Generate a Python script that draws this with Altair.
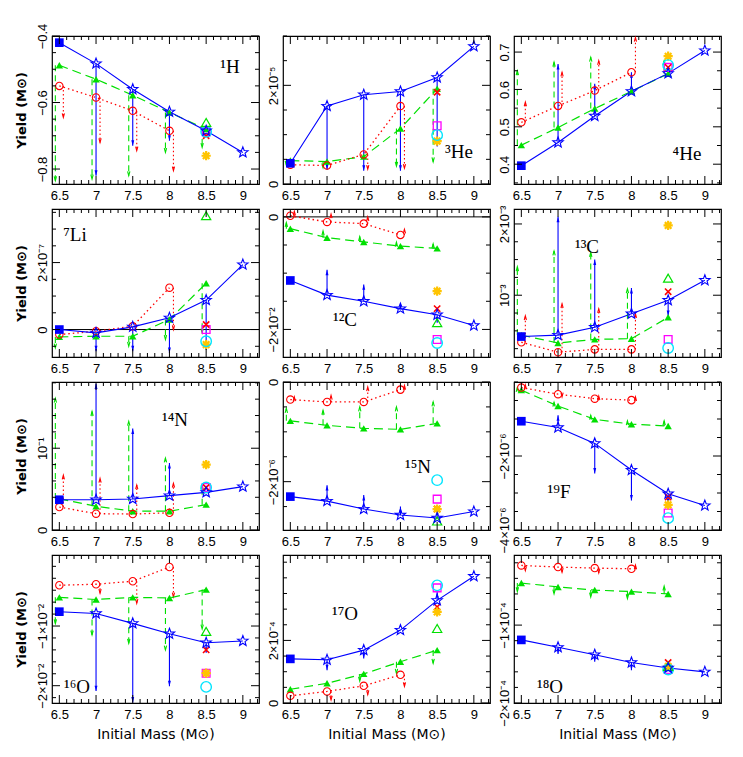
import math
import altair as alt
import pandas as pd

MASS = [6.5, 7.0, 7.5, 8.0, 8.5, 9.0]
X_LABELS = [6.5, 7.0, 7.5, 8.0, 8.5, 9.0]
X_DOMAIN = [6.4, 9.22]

# extras at 8.5: [magenta square, red cross, yellow asterisk, cyan circle, green open triangle]

# ---- 1H (M_sun)
H1_blue = [-0.42, -0.483, -0.56, -0.628, -0.685, -0.75]
H1_green = [-0.488, -0.53, -0.578, -0.63, -0.68]
H1_red = [-0.55, -0.585, -0.625, -0.685]
H1_blue_arrow = [None, -0.82, -0.73, -0.715, None, None]
H1_green_arrow = [-0.835, -0.83, -0.82, -0.75, -0.735]
H1_red_arrow = [-0.645, -0.72, -0.745, -0.805]
H1_extra = [-0.688, -0.70, -0.76, -0.688, -0.66]

# ---- 3He (1e-5)
He3_blue = [0.42, 1.58, 1.81, 1.875, 2.16, 2.79]
He3_green = [0.475, 0.455, 0.555, 1.125, 1.93]
He3_red = [0.39, 0.375, 0.60, 1.58]
He3_blue_arrow = [None, 0.29, 0.27, 0.27, 0.76, None]
He3_green_arrow = [0.38, 0.33, None, 0.36, 0.45]
He3_red_arrow = [None, None, 0.30, 0.32]
He3_extra = [1.18, 1.86, 0.87, 0.99, None]

# ---- 4He (M_sun)
He4_blue = [0.396, 0.458, 0.529, 0.595, 0.643, 0.704]
He4_green = [0.451, 0.498, 0.549, 0.595, 0.642]
He4_red = [0.512, 0.556, 0.597, 0.646]
He4_blue_arrow = [None, 0.668, 0.615, 0.646, None, None]
He4_green_arrow = [0.65, 0.673, 0.686, None, 0.677]
He4_red_arrow = [0.566, 0.646, 0.677, 0.739]
He4_extra = [0.659, 0.659, 0.689, 0.665, None]

# ---- 7Li (1e-7)
Li7_blue = [0.0, -0.1, 0.08, 0.35, 0.88, 1.94]
Li7_green = [-0.22, -0.2, -0.2, 0.3, 1.38]
Li7_red = [-0.15, -0.05, 0.1, 1.25]
Li7_blue_arrow = [None, -0.65, -0.65, -0.7, -0.6, None]
Li7_green_arrow = [-0.55, None, -0.5, -0.3, -0.1]
Li7_red_arrow = [None, None, None, 0.0]
Li7_extra = [0.0, 0.15, -0.45, -0.35, 3.4]

# ---- 12C (1e-2)
C12_blue = [-1.13, -1.39, -1.50, -1.63, -1.74, -1.93]
C12_green = [-0.21, -0.37, -0.445, -0.52, -0.56]
C12_red = [0.02, -0.09, -0.12, -0.32]
C12_blue_arrow = [None, -0.94, -1.2, -1.55, -1.88, None]
C12_green_arrow = [-0.1, -0.25, -0.35, -0.45, -0.48]
C12_red_arrow = [0.1, 0.05, 0.0, -0.22]
C12_extra = [-2.18, -1.63, -1.32, -2.24, -1.88]

# ---- 13C (1e-3)
C13_blue = [0.42, 0.44, 0.55, 0.74, 0.93, 1.21]
C13_green = [0.44, 0.33, 0.38, 0.39, 0.69]
C13_red = [0.34, 0.2, 0.24, 0.24]
C13_blue_arrow = [None, 2.1, 1.5, 1.1, 0.71, None]
C13_green_arrow = [1.4, 1.62, 1.6, 1.09, None]
C13_red_arrow = [0.71, 0.88, 0.81, 0.74]
C13_extra = [0.38, 1.05, 1.98, 0.26, 1.24]

# ---- 14N (M_sun)
N14_blue = [0.037, 0.037, 0.038, 0.042, 0.046, 0.053]
N14_green = [0.038, 0.029, 0.023, 0.023, 0.031]
N14_red = [0.028, 0.020, 0.0195, 0.021]
N14_blue_arrow = [None, 0.179, 0.124, 0.082, None, None]
N14_green_arrow = [0.161, 0.145, 0.133, 0.088, 0.055]
N14_red_arrow = [0.067, 0.063, 0.055, 0.057]
N14_extra = [0.052, 0.052, 0.08, 0.052, None]

# ---- 15N (1e-6)
N15_blue = [-2.3, -2.39, -2.55, -2.67, -2.73, -2.6]
N15_green = [-0.78, -0.87, -0.93, -0.95, -0.83]
N15_red = [-0.353, -0.4, -0.4, -0.153]
N15_blue_arrow = [None, -2.07, -2.27, -2.5, -2.55, None]
N15_green_arrow = [-0.53, -0.57, -0.5, -0.5, -0.4]
N15_red_arrow = [-0.3, -0.27, -0.1, -0.07]
N15_extra = [-2.35, -2.55, -2.55, -1.97, -2.79]

# ---- 19F (1e-6)
F19_blue = [-1.06, -1.23, -1.66, -2.38, -3.02, -3.34]
F19_green = [-0.22, -0.65, -1.01, -1.14, -1.19]
F19_red = [-0.15, -0.33, -0.45, -0.49]
F19_blue_arrow = [None, -0.9, -2.47, -3.2, -3.3, None]
F19_green_arrow = [-0.15, -0.55, -0.9, -1.05, -1.05]
F19_red_arrow = [-0.08, -0.4, -0.38, -0.4]
F19_extra = [-3.54, -3.11, -3.32, -3.68, None]

# ---- 16O (1e-2)
O16_blue = [-0.76, -0.79, -0.956, -1.13, -1.28, -1.25]
O16_green = [-0.52, -0.556, -0.52, -0.53, -0.39]
O16_red = [-0.317, -0.30, -0.25, -0.011]
O16_blue_arrow = [None, -2.09, -2.28, -2.01, -1.45, None]
O16_green_arrow = [-0.96, -1.15, -1.29, -1.4, -1.05]
O16_red_arrow = [None, -0.45, -0.62, -0.51]
O16_extra = [-1.79, -1.4, -1.79, -2.02, -1.09]

# ---- 17O (1e-4)
O17_blue = [1.41, 1.38, 1.69, 2.33, 3.28, 4.05]
O17_green = [0.44, 0.63, 0.93, 1.32, 1.69]
O17_red = [0.23, 0.37, 0.55, 0.9]
O17_blue_arrow = [None, 1.05, 1.42, None, 3.55, None]
O17_green_arrow = [None, None, 0.7, 0.95, 1.27]
O17_red_arrow = [None, 0.1, 0.27, 0.53]
O17_extra = [3.68, 3.07, 2.91, 3.76, 2.38]

# ---- 18O (1e-4)
O18_blue = [-1.19, -1.285, -1.38, -1.48, -1.55, -1.6]
O18_green = [-0.46, -0.51, -0.55, -0.57, -0.6]
O18_red = [-0.234, -0.255, -0.268, -0.277]
O18_blue_arrow = [None, -1.37, -1.47, -1.58, None, None]
O18_green_arrow = [-0.57, -0.6, -0.64, -0.66, -0.5]
O18_red_arrow = [-0.3, -0.32, -0.33, -0.23]
O18_extra = [-1.57, -1.48, -1.53, -1.57, -1.53]

PANELS = [
    dict(label="¹H", b=H1_blue, g=H1_green, r=H1_red, ba=H1_blue_arrow, ga=H1_green_arrow, ra=H1_red_arrow, ex=H1_extra,
         ydom=[-0.845, -0.4], step=0.05, labels={-0.4: "−0.4", -0.6: "−0.6", -0.8: "−0.8"}, lpos=(178, 31), zero=False),
    dict(label="³He", b=He3_blue, g=He3_green, r=He3_red, ba=He3_blue_arrow, ga=He3_green_arrow, ra=He3_red_arrow, ex=He3_extra,
         ydom=[0, 3.0], step=0.5, labels={0: "0", 2: "2×10⁻⁵"}, lpos=(176, 116), zero=False),
    dict(label="⁴He", b=He4_blue, g=He4_green, r=He4_red, ba=He4_blue_arrow, ga=He4_green_arrow, ra=He4_red_arrow, ex=He4_extra,
         ydom=[0.347, 0.743], step=0.05, labels={0.4: "0.4", 0.5: "0.5", 0.6: "0.6", 0.7: "0.7"}, lpos=(173, 118), zero=False),
    dict(label="⁷Li", b=Li7_blue, g=Li7_green, r=Li7_red, ba=Li7_blue_arrow, ga=Li7_green_arrow, ra=Li7_red_arrow, ex=Li7_extra,
         ydom=[-0.82, 3.6], step=0.5, labels={0: "0", 2: "2×10⁻⁷"}, lpos=(23, 26), zero=True),
    dict(label="¹²C", b=C12_blue, g=C12_green, r=C12_red, ba=C12_blue_arrow, ga=C12_green_arrow, ra=C12_red_arrow, ex=C12_extra,
         ydom=[-2.49, 0.14], step=0.5, labels={0: "0", -2: "−2×10⁻²"}, lpos=(62, 111), zero=True),
    dict(label="¹³C", b=C13_blue, g=C13_green, r=C13_red, ba=C13_blue_arrow, ga=C13_green_arrow, ra=C13_red_arrow, ex=C13_extra,
         ydom=[0.133, 2.21], step=0.25, labels={1: "10⁻³", 2: "2×10⁻³"}, lpos=(73, 38), zero=False),
    dict(label="¹⁴N", b=N14_blue, g=N14_green, r=N14_red, ba=N14_blue_arrow, ga=N14_green_arrow, ra=N14_red_arrow, ex=N14_extra,
         ydom=[0, 0.181], step=0.02, labels={0: "0", 0.1: "10⁻¹"}, lpos=(123, 38), zero=False),
    dict(label="¹⁵N", b=N15_blue, g=N15_green, r=N15_red, ba=N15_blue_arrow, ga=N15_green_arrow, ra=N15_red_arrow, ex=N15_extra,
         ydom=[-2.97, 0], step=0.5, labels={0: "0", -2: "−2×10⁻⁶"}, lpos=(135, 85), zero=False),
    dict(label="¹⁹F", b=F19_blue, g=F19_green, r=F19_red, ba=F19_blue_arrow, ga=F19_green_arrow, ra=F19_red_arrow, ex=F19_extra,
         ydom=[-4.0, 0], step=0.5, labels={-2: "−2×10⁻⁶", -4: "−4×10⁻⁶"}, lpos=(45, 110), zero=False),
    dict(label="¹⁶O", b=O16_blue, g=O16_green, r=O16_red, ba=O16_blue_arrow, ga=O16_green_arrow, ra=O16_red_arrow, ex=O16_extra,
         ydom=[-2.29, 0.19], step=0.2, labels={-1: "−1×10⁻²", -2: "−2×10⁻²"}, lpos=(25, 132), zero=False),
    dict(label="¹⁷O", b=O17_blue, g=O17_green, r=O17_red, ba=O17_blue_arrow, ga=O17_green_arrow, ra=O17_red_arrow, ex=O17_extra,
         ydom=[0, 4.73], step=0.5, labels={0: "0", 2: "2×10⁻⁴"}, lpos=(62, 59), zero=False),
    dict(label="¹⁸O", b=O18_blue, g=O18_green, r=O18_red, ba=O18_blue_arrow, ga=O18_green_arrow, ra=O18_red_arrow, ex=O18_extra,
         ydom=[-2.0, -0.1], step=0.2, labels={-1: "−1×10⁻⁴", -2: "−2×10⁻⁴"}, lpos=(36, 132), zero=False),
]

W, H = 207, 148
BLUE, GREEN, RED = "#0000ff", "#00e000", "#ff0000"
MAGENTA, CYAN, GOLD = "#ff00ff", "#00e5ff", "#ffc400"


def star_path(ro=1.0, ri=0.42):
    pts = []
    for k in range(10):
        a = -math.pi / 2 + k * math.pi / 5
        r = ro if k % 2 == 0 else ri
        pts.append(f"{r * math.cos(a):.3f},{r * math.sin(a):.3f}")
    return "M" + "L".join(pts) + "Z"


STAR = star_path()
ASTER = "M0,-1L0,1M-1,0L1,0M-0.71,-0.71L0.71,0.71M-0.71,0.71L0.71,-0.71"
XMARK = "M-1,-1L1,1M-1,1L1,-1"
HEAD_DOWN_F = "M-0.32,-1.6L0,0L0.32,-1.6Z"
HEAD_UP_F = "M-0.32,1.6L0,0L0.32,1.6Z"
HEAD_DOWN_O = "M-0.35,-1.3L0,0L0.35,-1.3"
HEAD_UP_O = "M-0.35,1.3L0,0L0.35,1.3"


def label_expr(d):
    parts = [f"abs(datum.value - ({v})) < 1e-6 ? '{t}'" for v, t in d.items()]
    return " : ".join(parts) + " : ''"


def make_panel(i, p):
    row, col = divmod(i, 3)
    xs = alt.Scale(domain=X_DOMAIN, nice=False, zero=False)
    ys = alt.Scale(domain=p["ydom"], nice=False, zero=False)

    xax = alt.Axis(values=X_LABELS, format="~g", ticks=False, domain=False, grid=False,
                   labelFontSize=13, labelPadding=5, labelFont="Liberation Sans", labelColor="black",
                   title="Initial Mass (M⊙)" if row == 3 else "",
                   titleFontSize=14, titleFont="DejaVu Sans", titleFontWeight="normal", titlePadding=6,
                   titleColor="black")
    yax = alt.Axis(values=list(p["labels"].keys()), labelExpr=label_expr(p["labels"]), labelAngle=270,
                   ticks=False, domain=False, grid=False, labelFontSize=13, labelPadding=3,
                   labelFont="Liberation Sans", labelColor="black", labelOverlap=False,
                   title="Yield (M⊙)" if col == 0 else "", titleFontSize=13, titleFont="DejaVu Sans",
                   titleFontWeight="bold", titlePadding=8, titleColor="black")

    def X(f):
        return alt.X(f, type="quantitative", scale=xs, axis=xax)

    def Y(f):
        return alt.Y(f, type="quantitative", scale=ys, axis=yax)

    layers = []

    if p["zero"]:
        layers.append(alt.Chart(pd.DataFrame({"z": [0.0]})).mark_rule(color="black", strokeWidth=1).encode(y=Y("z")))

    def arrows(ms, starts, ends, color, dash, filled, xoff, size, sw):
        rows = [(m, s, e) for m, s, e in zip(ms, starts, ends) if e is not None]
        if not rows:
            return []
        df = pd.DataFrame(rows, columns=["m", "s", "e"])
        df["dir"] = ["up" if e > s else "down" for _, s, e in rows]
        rule_kw = dict(color=color, strokeWidth=sw, xOffset=xoff)
        if dash:
            rule_kw["strokeDash"] = dash
        rule = alt.Chart(df).mark_rule(**rule_kw).encode(x=X("m"), y=Y("s"), y2="e:Q")
        rng = [HEAD_UP_F, HEAD_DOWN_F] if filled else [HEAD_UP_O, HEAD_DOWN_O]
        head = alt.Chart(df).mark_point(filled=filled, color=color, size=size, xOffset=xoff,
                                        strokeWidth=sw, opacity=1).encode(
            x=X("m"), y=Y("e"),
            shape=alt.Shape("dir:N", scale=alt.Scale(domain=["up", "down"], range=rng), legend=None))
        return [rule, head]

    def line(ms, vals, color, dash, sw):
        df = pd.DataFrame({"m": ms[:len(vals)], "v": vals})
        kw = dict(color=color, strokeWidth=sw)
        if dash:
            kw["strokeDash"] = dash
        return alt.Chart(df).mark_line(**kw).encode(x=X("m"), y=Y("v"))

    def pts(ms, vals, shape, size, color, filled, sw=1.0):
        df = pd.DataFrame({"m": ms, "v": vals})
        return alt.Chart(df).mark_point(shape=shape, size=size, filled=filled, color=color,
                                        strokeWidth=sw, opacity=1).encode(x=X("m"), y=Y("v"))

    layers += arrows(MASS[:5], p["g"], p["ga"], GREEN, [6, 4], False, -4, 45, 1.1)
    layers += arrows(MASS[:4], p["r"], p["ra"], RED, [1.5, 2.5], False, 4, 40, 1.1)
    layers.append(line(MASS, p["g"], GREEN, [9, 5], 1.2))
    layers.append(line(MASS, p["r"], RED, [1.5, 3], 1.3))
    layers += arrows(MASS[:6], p["b"], p["ba"], BLUE, None, True, 0, 70, 1.1)
    layers.append(line(MASS, p["b"], BLUE, None, 1.1))

    layers.append(pts(MASS[:len(p["g"])], p["g"], "triangle-up", 55, GREEN, True))
    layers.append(pts(MASS[:len(p["r"])], p["r"], "circle", 55, RED, False, 1.1))

    ex_shapes = ["square", XMARK, ASTER, "circle", "triangle-up"]
    ex_colors = [MAGENTA, RED, GOLD, CYAN, GREEN]
    ex_sizes = [60, 40, 85, 110, 85]
    ex_sw = [1.3, 1.6, 2.2, 1.4, 1.2]
    for shp, col_, sz, sw_, v in zip(ex_shapes, ex_colors, ex_sizes, ex_sw, p["ex"]):
        if v is not None:
            layers.append(pts([8.5], [v], shp, sz, col_, False, sw_))

    layers.append(pts([MASS[0]], [p["b"][0]], "square", 75, BLUE, True))
    layers.append(pts(MASS[1:], p["b"][1:], STAR, 120, BLUE, False, 1.1))

    # element label
    layers.append(alt.Chart(pd.DataFrame({"t": [p["label"]]})).mark_text(
        font="Liberation Serif", fontSize=19, align="center", baseline="middle", color="black").encode(
        x=alt.value(p["lpos"][0]), y=alt.value(p["lpos"][1]), text="t:N"))

    # inward ticks on all four sides (rules)
    xt = [round(6.5 + 0.1 * k, 1) for k in range(28) if 6.5 + 0.1 * k <= X_DOMAIN[1]]
    xmaj = pd.DataFrame({"v": [v for v in xt if abs(v * 2 - round(v * 2)) < 1e-6]})
    xmin = pd.DataFrame({"v": [v for v in xt if abs(v * 2 - round(v * 2)) >= 1e-6]})
    for df_, ln in ((xmaj, 8), (xmin, 4)):
        layers.append(alt.Chart(df_).mark_rule(color="black", strokeWidth=1).encode(
            x=X("v"), y=alt.value(0), y2=alt.value(ln)))
        layers.append(alt.Chart(df_).mark_rule(color="black", strokeWidth=1).encode(
            x=X("v"), y=alt.value(H), y2=alt.value(H - ln)))
    lo, hi = p["ydom"]
    st = p["step"]
    k0 = math.ceil(lo / st - 1e-6)
    k1 = math.floor(hi / st + 1e-6)
    yt = [round(k * st, 6) for k in range(k0, k1 + 1)]
    majors = list(p["labels"].keys())
    ymaj = pd.DataFrame({"v": [v for v in yt if any(abs(v - m) < 1e-6 for m in majors)]})
    ymin = pd.DataFrame({"v": [v for v in yt if not any(abs(v - m) < 1e-6 for m in majors)]})
    for df_, ln in ((ymaj, 8), (ymin, 4)):
        if len(df_) == 0:
            continue
        layers.append(alt.Chart(df_).mark_rule(color="black", strokeWidth=1).encode(
            y=Y("v"), x=alt.value(0), x2=alt.value(ln)))
        layers.append(alt.Chart(df_).mark_rule(color="black", strokeWidth=1).encode(
            y=Y("v"), x=alt.value(W), x2=alt.value(W - ln)))

    return alt.layer(*layers).properties(width=W, height=H)


charts = [make_panel(i, p) for i, p in enumerate(PANELS)]
chart = alt.concat(*charts, columns=3, spacing={"row": 25, "column": 24}, bounds="flush").properties(
    padding={"left": 6, "top": 14, "right": 5, "bottom": 5}
).configure_view(stroke="black", strokeWidth=1.2)

chart.save("out.html", embed_options={"renderer": "svg", "actions": False})
